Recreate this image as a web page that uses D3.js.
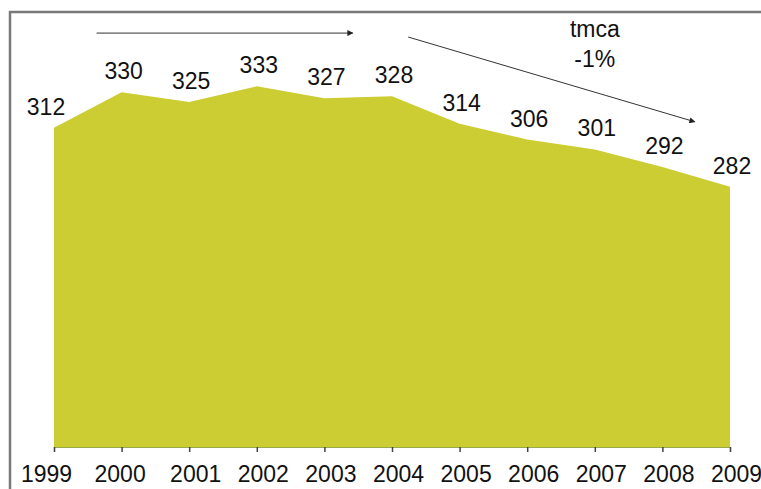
<!DOCTYPE html>
<html>
<head>
<meta charset="utf-8">
<script src="https://cdn.jsdelivr.net/npm/d3@7"></script>
<style>
  html, body { margin: 0; padding: 0; background: #fff; }
  svg { display: block; }
  text { font-family: "Liberation Sans", Arial, sans-serif; fill: #111; }
</style>
</head>
<body>
<svg id="chart" width="761" height="489"></svg>
<script>
// Yearly values
const years = [1999, 2000, 2001, 2002, 2003, 2004, 2005, 2006, 2007, 2008, 2009];
const values = [312, 330, 325, 333, 327, 328, 314, 306, 301, 292, 282];
// Trend note
const trendLines = ["tmca", "-1%"];

const W = 761, H = 489;
const svg = d3.select("#chart");

const x = d3.scaleLinear().domain([1999, 2009]).range([54, 730]);
const y = d3.scaleLinear().domain([150, 350]).range([447, 52.8]);

// Frame (top and left edges)
svg.append("path")
  .attr("d", `M10,${H} V12 H${W}`)
  .attr("fill", "none")
  .attr("stroke", "#7a7a7a")
  .attr("stroke-width", 2.5);

// Filled area
const area = d3.area()
  .x((d, i) => x(years[i]))
  .y0(y(150))
  .y1(d => y(d));

svg.append("path")
  .datum(values)
  .attr("d", area)
  .attr("fill", "#cccc33");

// X axis
const xAxis = d3.axisBottom(x)
  .tickValues(years)
  .tickFormat(d3.format("d"))
  .tickSize(5)
  .tickPadding(14);

const gx = svg.append("g")
  .attr("transform", `translate(0,${y(150)})`)
  .call(xAxis);
gx.select(".domain").attr("stroke", "#9aa84a").attr("stroke-width", 1.2);
gx.selectAll(".tick line").attr("stroke", "#444").attr("stroke-width", 1.5);
gx.selectAll(".tick text")
  .attr("font-size", 23)
  .attr("font-family", "Liberation Sans, Arial, sans-serif")
  .attr("fill", "#111")
  .attr("dx", (d, i) => i === 0 ? -8 : i === 1 ? -2 : 6);

// Value labels
svg.append("g")
  .selectAll("text")
  .data(values)
  .join("text")
  .attr("x", (d, i) => x(years[i]) + (i === 0 ? -8 : 2))
  .attr("y", d => y(d) - 13)
  .attr("text-anchor", "middle")
  .attr("font-size", 23)
  .text(d => d);

// Arrows
const defs = svg.append("defs");
defs.append("marker")
  .attr("id", "head")
  .attr("viewBox", "0 0 10 10")
  .attr("refX", 9).attr("refY", 5)
  .attr("markerWidth", 8).attr("markerHeight", 6)
  .attr("markerUnits", "userSpaceOnUse")
  .attr("orient", "auto")
  .append("path")
  .attr("d", "M0,0 L10,5 L0,10 Z")
  .attr("fill", "#222");

const arrows = [
  { from: [1999.63, 360], to: [2003.42, 360] },
  { from: [2004.24, 358], to: [2008.48, 315] }
];
svg.append("g")
  .selectAll("line")
  .data(arrows)
  .join("line")
  .attr("x1", d => x(d.from[0])).attr("y1", d => y(d.from[1]))
  .attr("x2", d => x(d.to[0])).attr("y2", d => y(d.to[1]))
  .attr("stroke", "#333")
  .attr("stroke-width", 1)
  .attr("marker-end", "url(#head)");

// Trend note
svg.append("text")
  .attr("x", x(2007))
  .attr("y", y(358.2))
  .attr("text-anchor", "middle")
  .attr("font-size", 23)
  .selectAll("tspan")
  .data(trendLines)
  .join("tspan")
  .attr("x", x(2007) - 0)
  .attr("dy", (d, i) => i === 0 ? 0 : 30)
  .text(d => d);
</script>
</body>
</html>
